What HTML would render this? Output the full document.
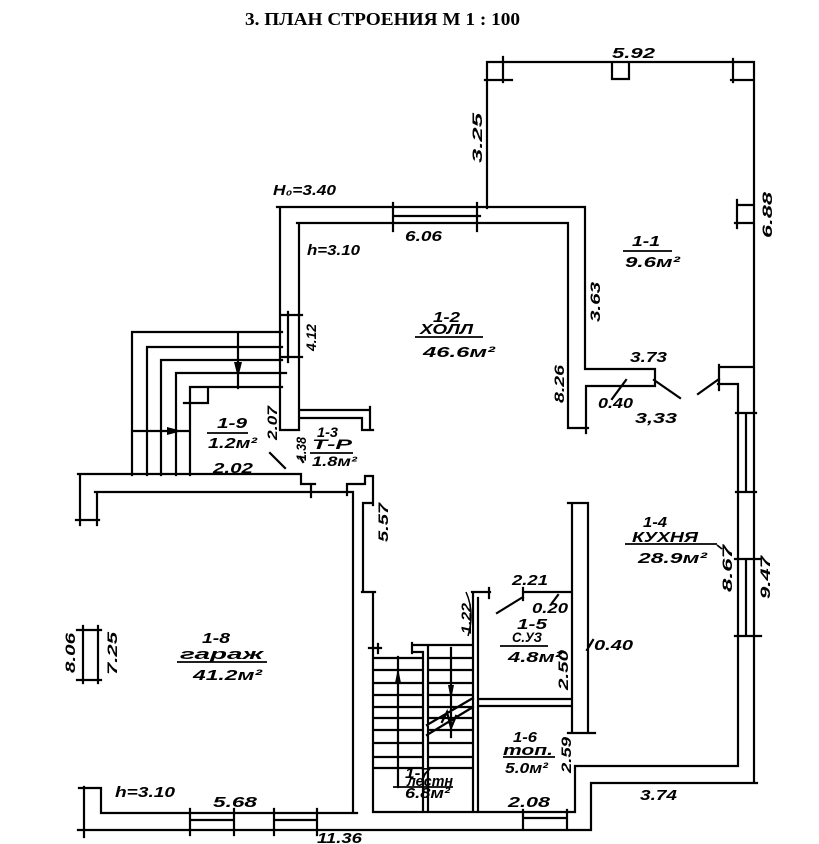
<!DOCTYPE html>
<html><head><meta charset="utf-8">
<style>
html,body{margin:0;padding:0;background:#fff;}
svg{display:block;}
.w{fill:none;stroke:#000;stroke-width:2.2;stroke-linecap:square;}
.u{fill:none;stroke:#000;stroke-width:1.7;}
.t{font-family:"Liberation Sans",sans-serif;font-style:italic;font-weight:bold;font-size:15px;fill:#000;}
.s{font-family:"Liberation Sans",sans-serif;font-style:italic;font-weight:bold;font-size:14px;fill:#000;}
.r{font-family:"Liberation Sans",sans-serif;font-style:italic;font-weight:bold;font-size:14px;fill:#000;}
</style></head><body>
<svg width="819" height="844" viewBox="0 0 819 844" xmlns="http://www.w3.org/2000/svg">
<rect width="819" height="844" fill="#fff"/>
<text x="245" y="25" font-family="Liberation Serif, serif" font-weight="bold" font-size="18" textLength="275" lengthAdjust="spacingAndGlyphs">3. ПЛАН СТРОЕНИЯ М 1 : 100</text>

<path class="w" d="
M487,62 H754 M487,62 V208 M503,57 V82 M485,80 H512
M612,62 V79 H629 V62
M733,59 V82 M731,80 H754
M754,62 V367
M737,200 V228 M737,205 H754 M735,223 H754

M277,207 H585 M297,223 H568
M393,203 V231 M477,203 V231 M393,216 H480
M280,207 V430 H299 M299,223 V430
M288,312 V362 M280,315 H302 M280,357 H302
M585,207 V369 H655 V386 H586 V433
M568,223 V428 H588
M654,380 L680,398
M719,379 L698,394
M719,365 V390 M719,367 H754
M718,384 H738 V766
M754,367 V783
M736,413 H756 M736,492 H756 M746,413 V492
M735,559 H761 M735,636 H761 M746,559 V636
M575,766 H738 M591,783 H757
M575,766 V812 M591,783 V830

M568,503 H588 M572,503 V733 M588,503 V733 M568,733 H595

M478,699 H572 M478,706 H572
M523,592 H572 M523,588 V600
M497,613 L523,597
M552,603 L558,595
M612,399 L626,380
M587,650 L593,640

M472,592 H490 M489,588 V598
M473,592 V812 M478,598 V812

M78,474 H301 V484 H315 M311,484 V497
M80,474 V525 M97,492 V525 M76,520 H99
M95,492 H353
M347,484 H365 V476 H373 V505 M347,484 V495
M363,503 H373 M363,503 V592 M362,592 H375 M373,592 V812
M353,492 V813
M84,787 V837 M79,788 H101 V813 H357
M78,830 H591
M83,626 V683 M98,626 V683 M77,630 H101 M77,680 H101
M190,809 V835 M234,809 V835 M190,820 H234
M274,809 V835 M317,809 V835 M274,820 H317
M373,812 H575
M523,810 V828 M567,810 V828 M523,818 H567

M132,332 H282 M147,347 H282 M161,360 H282 M176,373 H286 M190,387 H282
M132,332 V475 M147,347 V475 M161,360 V475 M176,373 V475 M190,387 V475
M208,387 V403 M184,403 H208
M132,431 H190
M238,332 V388

M300,410 H370 M300,418 H362 M370,407 V430 M362,418 V430 H373
M270,453 L285,468
M300,457 L303,462

M369,648 H381 M378,644 V653
M412,645 H472 M412,643 V653 M412,652 H423
M423,652 V812 M428,645 V812
M373,658 H423 M373,670 H423 M373,683 H423 M373,695 H423 M373,707 H423
M373,718 H423 M373,730 H423 M373,743 H423 M373,757 H423 M373,768 H423
M428,658 H473 M428,670 H473 M428,683 H473 M428,695 H473 M428,707 H473
M428,718 H473 M428,730 H473 M428,743 H473 M428,757 H473 M428,768 H473
M398,657 V787
M451,648 V737
M427,725 L473,698 M427,735 L473,707
M442,722 L447,712 L451,728 L456,716
"/>
<path fill="none" stroke="#000" stroke-width="1.5" d="M466,592 Q475,612 468,636"/>

<polygon points="167,427 182,431 167,435" fill="#000"/>
<polygon points="234,362 238,378 242,362" fill="#000"/>
<polygon points="395,683 398,668 401,683" fill="#000"/>
<polygon points="448,685 451,700 454,685" fill="#000"/>

<path class="u" d="
M623,251 H672
M415,337 H483
M207,433 H248
M310,453 H353
M625,544 H717 M717,545 L722,549
M500,646 H548
M177,662 H267
M503,757 H555
M393,787 H453
"/>

<text class="t" x="612" y="58" textLength="43" lengthAdjust="spacingAndGlyphs">5.92</text>
<text class="t" x="273" y="195" textLength="63" lengthAdjust="spacingAndGlyphs">H₀=3.40</text>
<text class="t" x="405" y="241" textLength="37" lengthAdjust="spacingAndGlyphs">6.06</text>
<text class="t" x="307" y="255" textLength="53" lengthAdjust="spacingAndGlyphs">h=3.10</text>

<text class="t" x="632" y="246" textLength="28" lengthAdjust="spacingAndGlyphs">1-1</text>
<text class="t" x="625" y="267" textLength="55" lengthAdjust="spacingAndGlyphs">9.6м²</text>

<text class="t" x="433" y="322" textLength="27" lengthAdjust="spacingAndGlyphs">1-2</text>
<text class="t" x="420" y="334" textLength="53" lengthAdjust="spacingAndGlyphs">ХОЛЛ</text>
<text class="t" x="423" y="357" textLength="72" lengthAdjust="spacingAndGlyphs">46.6м²</text>

<text class="t" x="630" y="362" textLength="37" lengthAdjust="spacingAndGlyphs">3.73</text>
<text class="t" x="598" y="408" textLength="35" lengthAdjust="spacingAndGlyphs">0.40</text>
<text class="t" x="635" y="423" textLength="42" lengthAdjust="spacingAndGlyphs">3,33</text>

<text class="t" x="217" y="428" textLength="30" lengthAdjust="spacingAndGlyphs">1-9</text>
<text class="t" x="208" y="448" textLength="49" lengthAdjust="spacingAndGlyphs">1.2м²</text>

<text class="s" x="317" y="437" textLength="21" lengthAdjust="spacingAndGlyphs">1-3</text>
<text class="s" x="312" y="449" textLength="40" lengthAdjust="spacingAndGlyphs">Т-Р</text>
<text class="s" x="312" y="466" textLength="45" lengthAdjust="spacingAndGlyphs">1.8м²</text>

<text class="t" x="213" y="473" textLength="40" lengthAdjust="spacingAndGlyphs">2.02</text>

<text class="t" x="643" y="527" textLength="24" lengthAdjust="spacingAndGlyphs">1-4</text>
<text class="t" x="632" y="542" textLength="66" lengthAdjust="spacingAndGlyphs">КУХНЯ</text>
<text class="t" x="638" y="563" textLength="69" lengthAdjust="spacingAndGlyphs">28.9м²</text>

<text class="t" x="512" y="585" textLength="36" lengthAdjust="spacingAndGlyphs">2.21</text>
<text class="t" x="532" y="613" textLength="36" lengthAdjust="spacingAndGlyphs">0.20</text>

<text class="t" x="517" y="629" textLength="30" lengthAdjust="spacingAndGlyphs">1-5</text>
<text class="s" x="512" y="642" textLength="30" lengthAdjust="spacingAndGlyphs">С.УЗ</text>
<text class="t" x="508" y="662" textLength="54" lengthAdjust="spacingAndGlyphs">4.8м²</text>

<text class="t" x="594" y="650" textLength="39" lengthAdjust="spacingAndGlyphs">0.40</text>

<text class="t" x="202" y="643" textLength="28" lengthAdjust="spacingAndGlyphs">1-8</text>
<text class="t" x="180" y="659" textLength="83" lengthAdjust="spacingAndGlyphs">гараж</text>
<text class="t" x="193" y="680" textLength="69" lengthAdjust="spacingAndGlyphs">41.2м²</text>

<text class="t" x="513" y="742" textLength="24" lengthAdjust="spacingAndGlyphs">1-6</text>
<text class="t" x="503" y="755" textLength="50" lengthAdjust="spacingAndGlyphs">топ.</text>
<text class="t" x="505" y="773" textLength="43" lengthAdjust="spacingAndGlyphs">5.0м²</text>

<text class="t" x="405" y="778" font-size="11" textLength="25" lengthAdjust="spacingAndGlyphs">1-7</text>
<text class="t" x="407" y="786" font-size="11" textLength="46" lengthAdjust="spacingAndGlyphs">лестн</text>
<text class="t" x="405" y="798" font-size="12" textLength="45" lengthAdjust="spacingAndGlyphs">6.8м²</text>

<text class="t" x="115" y="797" textLength="60" lengthAdjust="spacingAndGlyphs">h=3.10</text>
<text class="t" x="213" y="807" textLength="44" lengthAdjust="spacingAndGlyphs">5.68</text>
<text class="t" x="508" y="807" textLength="42" lengthAdjust="spacingAndGlyphs">2.08</text>
<text class="t" x="640" y="800" textLength="37" lengthAdjust="spacingAndGlyphs">3.74</text>
<text class="t" x="317" y="843" textLength="45" lengthAdjust="spacingAndGlyphs">11.36</text>

<text class="r" transform="translate(477,138) rotate(-90)" x="-25" y="5" textLength="50" lengthAdjust="spacingAndGlyphs">3.25</text>
<text class="r" transform="translate(767,215) rotate(-90)" x="-23" y="5" textLength="46" lengthAdjust="spacingAndGlyphs">6.88</text>
<text class="r" transform="translate(595,302) rotate(-90)" x="-20" y="5" textLength="40" lengthAdjust="spacingAndGlyphs">3.63</text>
<text class="r" transform="translate(311,337) rotate(-90)" x="-14" y="5" textLength="27" lengthAdjust="spacingAndGlyphs">4.12</text>
<text class="r" transform="translate(559,384) rotate(-90)" x="-19" y="5" textLength="38" lengthAdjust="spacingAndGlyphs">8.26</text>
<text class="r" transform="translate(272,423) rotate(-90)" x="-17" y="5" textLength="34" lengthAdjust="spacingAndGlyphs">2.07</text>
<text class="r" transform="translate(301,449) rotate(-90)" x="-12" y="5" textLength="24" lengthAdjust="spacingAndGlyphs">1.38</text>
<text class="r" transform="translate(383,522) rotate(-90)" x="-20" y="5" textLength="39" lengthAdjust="spacingAndGlyphs">5.57</text>
<text class="r" transform="translate(466,618) rotate(-90)" x="-16" y="5" textLength="31" lengthAdjust="spacingAndGlyphs">1.22</text>
<text class="r" transform="translate(727,568) rotate(-90)" x="-24" y="5" textLength="47" lengthAdjust="spacingAndGlyphs">8.67</text>
<text class="r" transform="translate(765,577) rotate(-90)" x="-22" y="5" textLength="43" lengthAdjust="spacingAndGlyphs">9.47</text>
<text class="r" transform="translate(70,653) rotate(-90)" x="-20" y="5" textLength="40" lengthAdjust="spacingAndGlyphs">8.06</text>
<text class="r" transform="translate(112,653) rotate(-90)" x="-22" y="5" textLength="43" lengthAdjust="spacingAndGlyphs">7.25</text>
<text class="r" transform="translate(563,670) rotate(-90)" x="-20" y="5" textLength="40" lengthAdjust="spacingAndGlyphs">2.50</text>
<text class="r" transform="translate(566,755) rotate(-90)" x="-18" y="5" textLength="36" lengthAdjust="spacingAndGlyphs">2.59</text>
</svg>
</body></html>
